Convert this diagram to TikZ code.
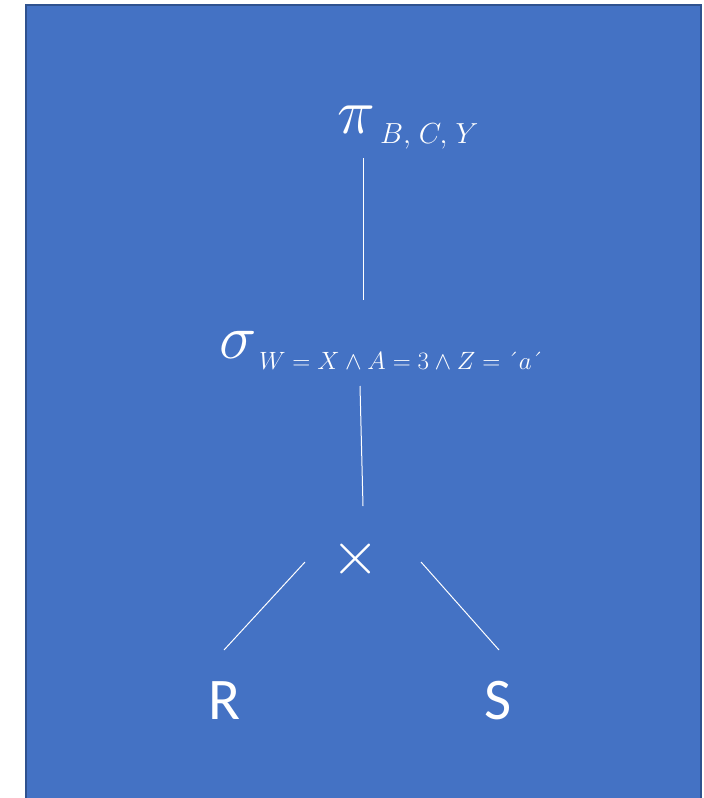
\RequirePackage{fix-cm}
\documentclass[tikz,border=0pt]{standalone}
\usepackage{fontspec}
\newfontfamily\carl{Carlito}
\definecolor{panel}{HTML}{4472C4}
\definecolor{panelborder}{HTML}{2F528F}
\tikzset{
  lbl/.style={inner sep=0pt, outer sep=0pt, text=white, anchor=base west},
  edge/.style={draw=white, line width=1pt}
}
\begin{document}
\begin{tikzpicture}[x=1pt,y=-1pt]
\useasboundingbox (0,0) rectangle (704,798);
\fill[panel, draw=panelborder, line width=2pt] (26,5) rectangle (701,805);
% nodes
\node[lbl, font=\fontsize{64}{64}\selectfont] (pi) at (337,133) {$\pi$};
\node[lbl, font=\fontsize{29}{29}\selectfont] (pisub) at (380,143) {$B,\mkern2mu C,\mkern2mu Y$};
\node[lbl, font=\fontsize{63}{63}\selectfont] (sigma) at (219,358) {$\sigma$};
\node[lbl, font=\fontsize{25}{25}\selectfont] (sigsub) at (259,369) {$W = X \wedge A = 3 \wedge Z = \mbox{\textasciiacute}a\mbox{\textasciiacute}$};
\node[inner sep=0pt, text=white, font=\fontsize{62}{62}\selectfont] (times) at (356,559) {$\times$};
\node[lbl, font=\carl\fontsize{59}{59}\selectfont] (R) at (208,719) {R};
\node[lbl, font=\carl\fontsize{59}{59}\selectfont] (S) at (484,719) {S};
% connector ends
\coordinate (piE) at (363,158);
\coordinate (sigTop) at (363,300);
\coordinate (sigBot) at (360,386);
\coordinate (timesTop) at (363,506);
\coordinate (timesL) at (305,562);
\coordinate (RTop) at (224,650);
\coordinate (timesR) at (421,562);
\coordinate (STop) at (499,650);
\draw[edge] (piE) -- (sigTop);
\draw[edge] (sigBot) -- (timesTop);
\draw[edge] (timesL) -- (RTop);
\draw[edge] (timesR) -- (STop);
\end{tikzpicture}
\end{document}
